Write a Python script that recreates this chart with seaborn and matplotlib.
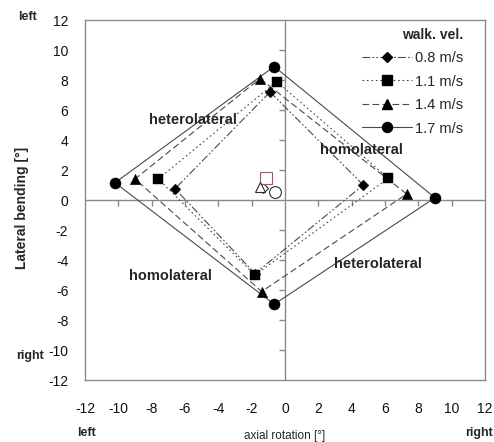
import matplotlib
matplotlib.use("Agg")
import matplotlib.pyplot as plt
import seaborn as sns
import pandas as pd
import numpy as np
from matplotlib.lines import Line2D

# ---- data ----
speeds = ["0.8 m/s", "1.1 m/s", "1.4 m/s", "1.7 m/s"]
# corners of each loop: top, right, bottom, left
rot_08 = [-0.9, 4.7, -1.8, -6.6]
lat_08 = [7.2, 1.0, -4.9, 0.75]
rot_11 = [-0.5, 6.2, -1.8, -7.6]
lat_11 = [7.9, 1.45, -5.0, 1.4]
rot_14 = [-1.5, 7.3, -1.4, -9.0]
lat_14 = [8.1, 0.4, -6.1, 1.4]
rot_17 = [-0.65, 9.0, -0.65, -10.2]
lat_17 = [8.9, 0.15, -6.95, 1.15]
# hollow centre markers
center_rot = [-1.3, -1.15, -1.5, -0.6]
center_lat = [0.8, 1.45, 0.9, 0.55]

ticks = [-12, -10, -8, -6, -4, -2, 0, 2, 4, 6, 8, 10, 12]

rots = [rot_08, rot_11, rot_14, rot_17]
lats = [lat_08, lat_11, lat_14, lat_17]
rows = []
for s, r, l in zip(speeds, rots, lats):
    order = [0, 1, 2, 3, 0]
    for k, i in enumerate(order):
        rows.append({"speed": s, "rot": r[i], "lat": l[i], "ord": k})
df = pd.DataFrame(rows)

sns.set_style("white")
plt.rcParams["font.family"] = ["Liberation Sans", "DejaVu Sans"]
plt.rcParams["axes.unicode_minus"] = False

fig = plt.figure(figsize=(4.94, 4.42), dpi=100)
ax = fig.add_axes([85 / 494, 62 / 442, 400 / 494, 360 / 442])

grey = "#8a8a8a"
ax.axhline(0, color=grey, lw=1.0, zorder=1)
ax.axvline(0, color=grey, lw=1.0, zorder=1)

markers = {"0.8 m/s": "D", "1.1 m/s": "s", "1.4 m/s": "^", "1.7 m/s": "o"}
msizes = {"0.8 m/s": 5.5, "1.1 m/s": 7.5, "1.4 m/s": 7.5, "1.7 m/s": 8}
dashes = {"0.8 m/s": (7, 2, 1.5, 2, 1.5, 2), "1.1 m/s": (1.5, 2.5),
          "1.4 m/s": (6, 3), "1.7 m/s": ""}
lc = "#4a4a4a"

for s in speeds:
    d = df[df.speed == s]
    sns.lineplot(data=d, x="rot", y="lat", sort=False, estimator=None,
                 ax=ax, color=lc, lw=0.8, dashes=False, legend=False,
                 zorder=2)
    if dashes[s]:
        ax.lines[-1].set_dashes(dashes[s])
    sns.scatterplot(data=d.iloc[:4], x="rot", y="lat", marker=markers[s],
                    s=msizes[s] ** 2, color="black", edgecolor="black",
                    linewidth=0.3, ax=ax, legend=False, zorder=3)

# hollow centre markers
c_markers = ["D", "s", "^", "o"]
c_colors = ["#222222", "#b04a4a", "#222222", "#222222"]
c_sizes = [5, 8, 7.5, 8.5]
for xr, yl, m, c, sz in zip(center_rot, center_lat, c_markers, c_colors, c_sizes):
    ax.plot([xr], [yl], marker=m, ms=sz, mfc="white", mec=c, mew=0.8,
            ls="none", zorder=3, alpha=0.95)

# limits, spines
ax.set_xlim(-12, 12)
ax.set_ylim(-12, 12)
for sp in ax.spines.values():
    sp.set_color(grey)
    sp.set_linewidth(1.0)
ax.set_xticks(ticks)
ax.set_yticks(ticks)
ax.tick_params(axis="both", length=0, labelsize=10, colors="#111111")
ax.tick_params(axis="x", pad=16)
ax.tick_params(axis="y", pad=12)
ax.set_xlabel("")
ax.set_ylabel("")

# small tick marks on the zero lines
inner = [t for t in ticks if t not in (-12, 0, 12)]
ax.plot(inner, [0] * len(inner), ls="none", marker=3, ms=4, mew=1.0,
        color=grey, zorder=1)
ax.plot([0] * len(inner), inner, ls="none", marker=0, ms=4, mew=1.0,
        color=grey, zorder=1)

# annotations
fs = 10.5
ax.text(-5.5, 5.3, "heterolateral", fontsize=fs, fontweight="bold",
        ha="center", va="center", zorder=5)
ax.text(4.6, 3.3, "homolateral", fontsize=fs, fontweight="bold",
        ha="center", va="center", zorder=5)
ax.text(-6.9, -5.1, "homolateral", fontsize=fs, fontweight="bold",
        ha="center", va="center", zorder=5)
ax.text(5.6, -4.3, "heterolateral", fontsize=fs, fontweight="bold",
        ha="center", va="center", zorder=5)

# legend
handles = []
for s in speeds:
    h = Line2D([0], [0], color=lc, lw=0.8, marker=markers[s],
               ms=msizes[s] * 0.9, mfc="black", mec="black")
    if dashes[s]:
        h.set_dashes(dashes[s])
    handles.append(h)
leg = ax.legend(handles, speeds, title="walk. vel.", loc="upper right",
                bbox_to_anchor=(0.96, 0.995),
                frameon=False, fontsize=10.5,
                title_fontproperties={"weight": "bold", "size": 10},
                handlelength=3.4, labelspacing=0.65, handletextpad=0.2,
                borderaxespad=0.0, alignment="right", markerfirst=True)

# outer labels
fig.text(27 / 494, 1 - 17 / 442, "left", fontsize=9, fontweight="bold",
         ha="center", va="center")
fig.text(30 / 494, 1 - 356 / 442, "right", fontsize=9, fontweight="bold",
         ha="center", va="center")
fig.text(22 / 494, 1 - 208 / 442, "Lateral bending [°]", fontsize=10,
         fontweight="bold", rotation=90, ha="center", va="center")
fig.text(86 / 494, 1 - 433 / 442, "left", fontsize=9, fontweight="bold",
         ha="center", va="center")
fig.text(479 / 494, 1 - 433 / 442, "right", fontsize=9, fontweight="bold",
         ha="center", va="center")
fig.text(285 / 494, 1 - 436 / 442, "axial rotation [°]", fontsize=8.5,
         ha="center", va="center")

fig.savefig("out.png", dpi=100)
